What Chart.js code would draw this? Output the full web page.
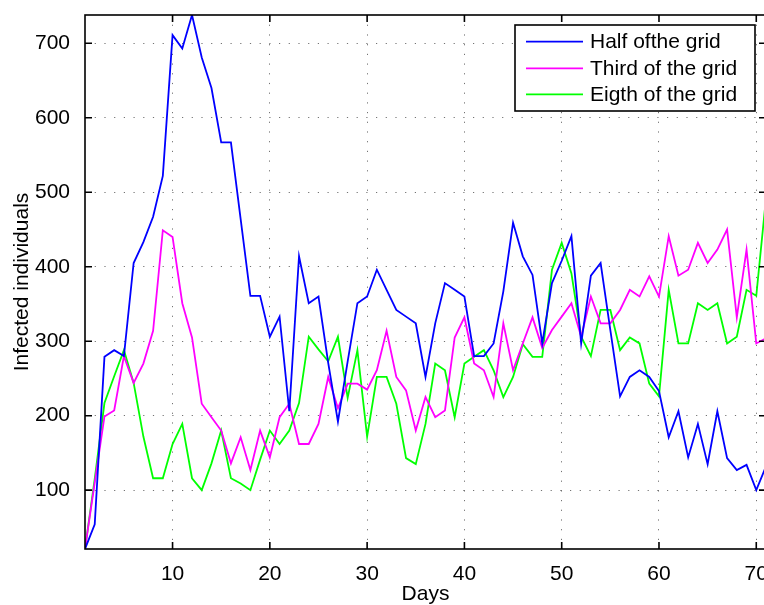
<!DOCTYPE html>
<html>
<head>
<meta charset="utf-8">
<script src="https://cdn.jsdelivr.net/npm/chart.js@4.4.1/dist/chart.umd.min.js"></script>
<style>
  html, body { margin: 0; padding: 0; background: #fff; overflow: hidden; }
  #wrap { width: 772px; height: 605px; position: relative; }
</style>
</head>
<body>
<div id="wrap"><canvas id="chart"></canvas></div>
<script>
// --- Data ---
const days = [1, 2, 3, 4, 5, 6, 7, 8, 9, 10, 11, 12, 13, 14, 15, 16, 17, 18, 19, 20,
  21, 22, 23, 24, 25, 26, 27, 28, 29, 30, 31, 32, 33, 34, 35, 36, 37, 38, 39, 40,
  41, 42, 43, 44, 45, 46, 47, 48, 49, 50, 51, 52, 53, 54, 55, 56, 57, 58, 59, 60,
  61, 62, 63, 64, 65, 66, 67, 68, 69, 70, 71];

const halfGrid = [21, 54, 279, 288, 280, 405, 433, 467, 522, 711,
  693, 738, 681, 640, 567, 567, 464, 361, 361, 306,
  333, 206, 414, 351, 360, 271, 192, 273, 351, 360,
  396, 369, 342, 333, 324, 252, 324, 378, 369, 360,
  280, 280, 297, 367, 459, 414, 389, 297, 378, 408,
  441, 297, 388, 405, 315, 226, 252, 261, 252, 233,
  171, 206, 144, 189, 135, 206, 143, 127, 134, 100, 132];

const thirdGrid = [21, 110, 199, 207, 280, 244, 270, 314, 449, 440,
  351, 305, 216, 198, 180, 136, 171, 127, 180, 144,
  198, 216, 162, 162, 189, 252, 210, 243, 243, 235,
  261, 314, 252, 234, 180, 225, 198, 207, 305, 332,
  270, 261, 225, 324, 261, 297, 332, 291, 315, 333,
  351, 306, 360, 324, 324, 342, 369, 360, 387, 360,
  441, 388, 396, 432, 405, 423, 450, 332, 423, 297, 304];

const eighthGrid = [21, 115, 217, 253, 288, 244, 172, 116, 116, 162,
  189, 116, 100, 136, 180, 116, 109, 100, 141, 180,
  162, 180, 217, 306, 289, 273, 306, 224, 288, 172,
  252, 252, 216, 143, 135, 189, 270, 261, 198, 270,
  279, 288, 261, 225, 252, 296, 279, 279, 396, 432,
  391, 306, 280, 342, 342, 288, 305, 297, 243, 226,
  369, 297, 297, 351, 342, 351, 297, 306, 369, 361, 492];

const seriesNames = ['Half ofthe grid', 'Third of the grid', 'Eigth of the grid'];
const xTickVals = [10, 20, 30, 40, 50, 60, 70];
const yTickVals = [100, 200, 300, 400, 500, 600, 700];

const FONT = "'Liberation Sans', Arial, Helvetica, sans-serif";

// --- Box, inward ticks and legend (MATLAB look) ---
const matlabAxes = {
  id: 'matlabAxes',
  afterDatasetsDraw(chart) {
    const { ctx, chartArea: a, scales: { x, y } } = chart;
    ctx.save();

    // legend box
    const lx = 515, ly = 25, lw = 240, lh = 86;
    ctx.fillStyle = '#fff';
    ctx.fillRect(lx, ly, lw, lh);
    ctx.strokeStyle = '#000';
    ctx.lineWidth = 1.6;
    ctx.strokeRect(lx, ly, lw, lh);
    ctx.font = '21px ' + FONT;
    ctx.textBaseline = 'middle';
    ctx.textAlign = 'left';
    const rows = [41.7, 68.3, 94.3];
    chart.data.datasets.forEach((ds, i) => {
      ctx.strokeStyle = ds.borderColor;
      ctx.lineWidth = 1.8;
      ctx.beginPath();
      ctx.moveTo(526, rows[i]);
      ctx.lineTo(583, rows[i]);
      ctx.stroke();
      ctx.fillStyle = '#000';
      ctx.fillText(ds.label, 590, rows[i] + 1);
    });

    // axes box
    ctx.strokeStyle = '#000';
    ctx.lineWidth = 1.6;
    ctx.strokeRect(a.left, a.top, a.right - a.left, a.bottom - a.top);

    // inward ticks on all four sides
    const tl = 7;
    ctx.beginPath();
    xTickVals.forEach(v => {
      const px = x.getPixelForValue(v);
      ctx.moveTo(px, a.bottom); ctx.lineTo(px, a.bottom - tl);
      ctx.moveTo(px, a.top); ctx.lineTo(px, a.top + tl);
    });
    yTickVals.forEach(v => {
      const py = y.getPixelForValue(v);
      ctx.moveTo(a.left, py); ctx.lineTo(a.left + tl, py);
      ctx.moveTo(a.right, py); ctx.lineTo(a.right - tl, py);
    });
    ctx.stroke();
    ctx.restore();
  }
};

const gridOpts = {
  color: 'rgba(0,0,0,0.55)',
  lineWidth: 1,
  drawTicks: false
};

new Chart(document.getElementById('chart').getContext('2d'), {
  type: 'line',
  data: {
    labels: days,
    datasets: [
      { label: seriesNames[0], data: halfGrid, borderColor: '#0000ff' },
      { label: seriesNames[1], data: thirdGrid, borderColor: '#ff00ff' },
      { label: seriesNames[2], data: eighthGrid, borderColor: '#00ff00' }
    ]
  },
  options: {
    responsive: true,
    maintainAspectRatio: false,
    animation: false,
    devicePixelRatio: 1,
    layout: { padding: { top: 15, right: 6, left: 0, bottom: 0 } },
    elements: {
      line: { borderWidth: 1.8, tension: 0, fill: false },
      point: { radius: 0, hoverRadius: 0 }
    },
    plugins: {
      legend: { display: false },
      tooltip: { enabled: false }
    },
    scales: {
      x: {
        type: 'linear',
        min: 1,
        max: 71,
        grid: gridOpts,
        border: { display: false, dash: [1.2, 8.5] },
        afterBuildTicks: scale => { scale.ticks = xTickVals.map(v => ({ value: v })); },
        afterFit: scale => { scale.height = 56; scale.paddingLeft = 0; scale.paddingRight = 0; },
        ticks: {
          color: '#000',
          padding: 13,
          maxRotation: 0,
          font: { family: FONT, size: 21 }
        },
        title: {
          display: true,
          text: 'Days',
          color: '#000',
          padding: { top: 0, bottom: 0.5 },
          font: { family: FONT, size: 21, lineHeight: 1 }
        }
      },
      y: {
        min: 21,
        max: 738,
        grid: gridOpts,
        border: { display: false, dash: [1.2, 8.5] },
        afterBuildTicks: scale => { scale.ticks = yTickVals.map(v => ({ value: v })); },
        afterFit: scale => { scale.width = 85; scale.paddingTop = 0; scale.paddingBottom = 0; },
        ticks: {
          color: '#000',
          padding: 15,
          font: { family: FONT, size: 21 }
        },
        title: {
          display: true,
          text: 'Infected individuals',
          color: '#000',
          padding: { top: 11.5, bottom: 0 },
          font: { family: FONT, size: 21, lineHeight: 1 }
        }
      }
    }
  },
  plugins: [matlabAxes]
});
</script>
</body>
</html>
